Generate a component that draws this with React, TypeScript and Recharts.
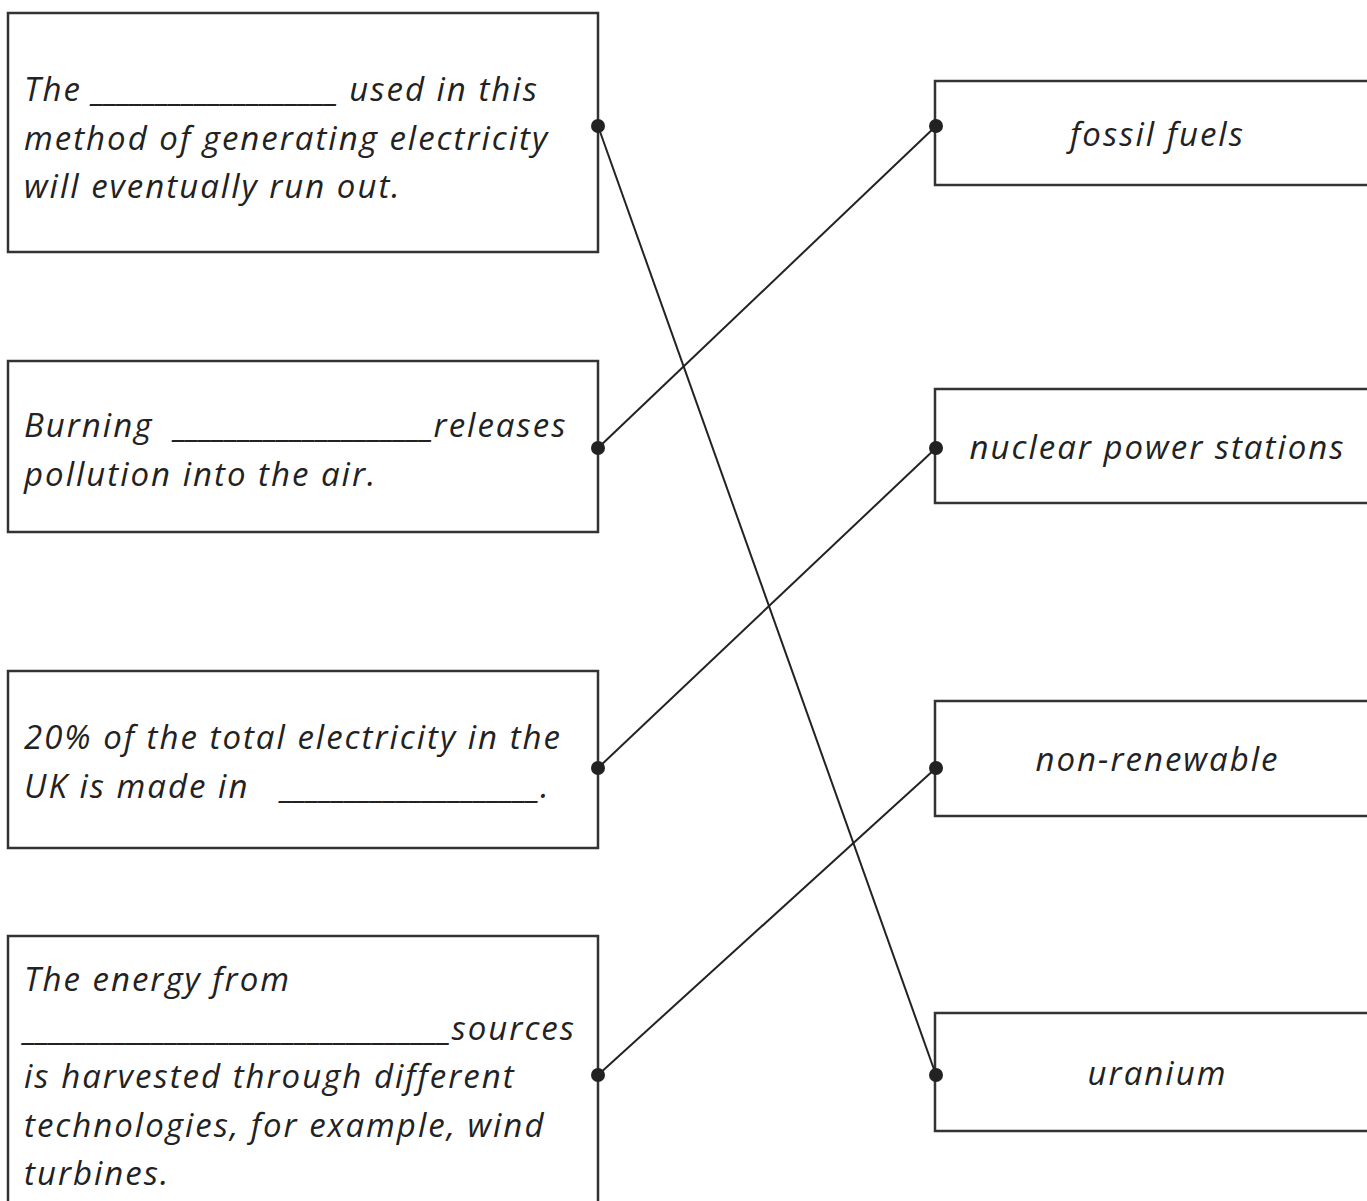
import { ScatterChart, Scatter, XAxis, YAxis, ReferenceArea } from 'recharts'

// worksheet content
const statements = [
	['The ___________________ used in this', 'method of generating electricity', 'will eventually run out.'],
	['Burning  ____________________releases', 'pollution into the air.'],
	['20% of the total electricity in the', 'UK is made in   ____________________.'],
	[
		'The energy from',
		'_________________________________sources',
		'is harvested through different',
		'technologies, for example, wind',
		'turbines.',
	],
]
const answers = ['fossil fuels', 'nuclear power stations', 'non-renewable', 'uranium']
// statement index -> answer index
const matches = [3, 0, 1, 2]

// layout (page pixels)
const W = 1367
const H = 1201
const leftX = [8, 598]
const rightX = [935, 1380]
const leftBoxY = [
	[13, 252],
	[361, 532],
	[671, 848],
	[936, 1220],
]
const rightBoxY = [
	[81, 185],
	[389, 503],
	[701, 816],
	[1013, 1131],
]
const firstLine = [88, 424, 736, 978]
const rowY = [126, 448, 768, 1075]
const LINE_GAP = 48.5

const textStyle = {
	fontFamily: "'Open Sans', sans-serif",
	fontStyle: 'italic',
	fontSize: 33,
	letterSpacing: 2,
	fill: '#222',
}

// underscores are kept tight so the blank reads as one line
function Line({ x, y, text }: any) {
	const parts = text.split(/(_+)/)
	return (
		<text x={x} y={y} dominantBaseline="central" style={textStyle} xmlSpace="preserve">
			{parts.map((p: string, k: number) =>
				p.startsWith('_') ? (
					<tspan key={k} style={{ letterSpacing: 0 }}>
						{p}
					</tspan>
				) : (
					<tspan key={k}>{p}</tspan>
				),
			)}
		</text>
	)
}

function LeftText({ viewBox, lines, firstY }: any) {
	if (!viewBox) return null
	return (
		<g>
			{lines.map((t: string, i: number) => (
				<Line key={i} x={viewBox.x + 16} y={firstY + i * LINE_GAP} text={t} />
			))}
		</g>
	)
}

function RightText({ viewBox, text }: any) {
	if (!viewBox) return null
	return (
		<text
			x={viewBox.x + viewBox.width / 2}
			y={viewBox.y + viewBox.height / 2}
			textAnchor="middle"
			dominantBaseline="central"
			style={textStyle}
		>
			{text}
		</text>
	)
}

const Dot = (props: any) => <circle cx={props.cx} cy={props.cy} r={7} fill="#222" />

export default function App() {
	return (
		<div style={{ position: 'absolute', left: 0, top: 0, width: W, height: H, background: '#fff' }}>
			<ScatterChart width={W} height={H} margin={{ top: 0, right: 0, bottom: 0, left: 0 }}>
				<XAxis type="number" dataKey="x" domain={[0, W]} hide />
				<YAxis type="number" dataKey="y" domain={[0, H]} reversed hide />
				{statements.map((lines, i) => (
					<ReferenceArea
						key={'l' + i}
						x1={leftX[0]}
						x2={leftX[1]}
						y1={leftBoxY[i][0]}
						y2={leftBoxY[i][1]}
						fill="none"
						stroke="#333"
						strokeWidth={2.5}
						strokeOpacity={1}
						ifOverflow="hidden"
						label={<LeftText lines={lines} firstY={firstLine[i]} />}
					/>
				))}
				{answers.map((a, i) => (
					<ReferenceArea
						key={'r' + i}
						x1={rightX[0]}
						x2={rightX[1]}
						y1={rightBoxY[i][0]}
						y2={rightBoxY[i][1]}
						fill="none"
						stroke="#333"
						strokeWidth={2.5}
						strokeOpacity={1}
						ifOverflow="hidden"
						label={<RightText text={a} />}
					/>
				))}
				{matches.map((j, i) => (
					<Scatter
						key={'m' + i}
						data={[
							{ x: leftX[1], y: rowY[i] },
							{ x: rightX[0] + 1, y: rowY[j] },
						]}
						line={{ stroke: '#222', strokeWidth: 2 }}
						shape={Dot}
						isAnimationActive={false}
					/>
				))}
			</ScatterChart>
		</div>
	)
}
